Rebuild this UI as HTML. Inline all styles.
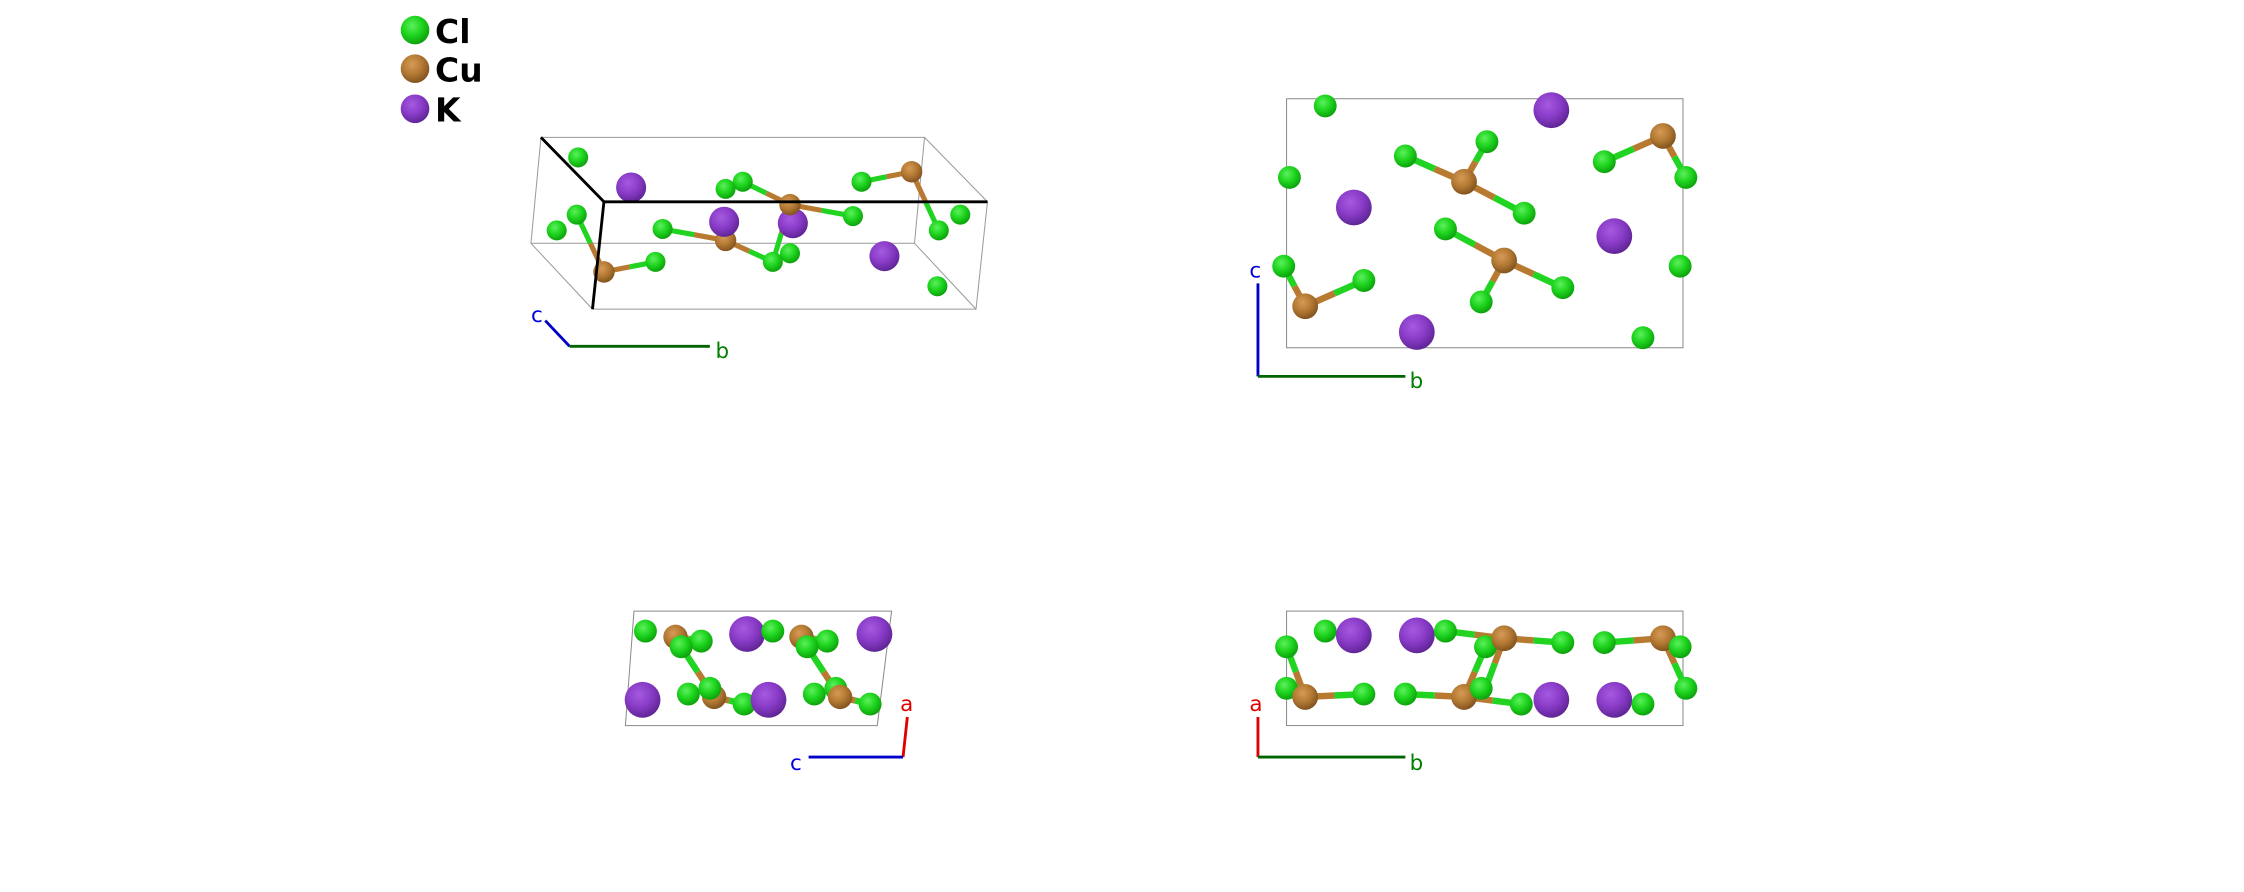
<!DOCTYPE html>
<html><head><meta charset="utf-8"><style>
html,body{margin:0;padding:0;background:#fff;}
svg{display:block;}
.cl{fill:url(#gcl)}.cu{fill:url(#gcu)}.k{fill:url(#gk)}
.bg{stroke:#22d422;stroke-linecap:butt}.bc{stroke:#b87a30;stroke-linecap:butt}
text{font-family:"DejaVu Sans","Liberation Sans",sans-serif;}
</style></head><body>
<svg width="2244" height="892" viewBox="0 0 1568 623.3" preserveAspectRatio="none" xmlns="http://www.w3.org/2000/svg">
<defs>
<radialGradient id="gcl" cx="0.4" cy="0.35" r="0.7"><stop offset="0" stop-color="#5cf05c"/><stop offset="0.5" stop-color="#1ed41e"/><stop offset="1" stop-color="#0a9a0a"/></radialGradient>
<radialGradient id="gcu" cx="0.4" cy="0.35" r="0.7"><stop offset="0" stop-color="#d69a55"/><stop offset="0.5" stop-color="#b47a34"/><stop offset="1" stop-color="#7a4e1c"/></radialGradient>
<radialGradient id="gk" cx="0.4" cy="0.35" r="0.7"><stop offset="0" stop-color="#a55ae0"/><stop offset="0.5" stop-color="#8a3cc8"/><stop offset="1" stop-color="#5a2290"/></radialGradient>
</defs>
<rect width="1568" height="623.3" fill="#fff"/>

<!-- legend -->
<circle class="cl" cx="290" cy="21" r="10"/><text x="304" y="30" font-size="23" font-weight="bold">Cl</text>
<circle class="cu" cx="290" cy="48" r="10"/><text x="304" y="57" font-size="23" font-weight="bold">Cu</text>
<circle class="k" cx="290" cy="76" r="10"/><text x="304" y="85" font-size="23" font-weight="bold">K</text>

<!-- TOP LEFT -->
<g fill="none" stroke="#999" stroke-width="0.7">
<polygon points="378,96 646,96 639,170 371,170"/>
<polygon points="422,141 690,141 682,216 414,216"/>
<line x1="646" y1="96" x2="690" y2="141"/><line x1="639" y1="170" x2="682" y2="216"/><line x1="371" y1="170" x2="414" y2="216"/>
</g>
<g stroke-width="3.6">
<line class="bg" x1="412.5" y1="170" x2="403" y2="150"/><line class="bc" x1="422" y1="190" x2="412.5" y2="170"/>
<line class="bg" x1="440" y1="186.5" x2="458" y2="183"/><line class="bc" x1="422" y1="190" x2="440" y2="186.5"/>
<line class="bg" x1="485" y1="164" x2="463" y2="160"/><line class="bc" x1="507" y1="168" x2="485" y2="164"/>
<line class="bg" x1="523.5" y1="175.5" x2="540" y2="183"/><line class="bc" x1="507" y1="168" x2="523.5" y2="175.5"/>
<line class="bg" x1="535.5" y1="135" x2="519" y2="127"/><line class="bc" x1="552" y1="143" x2="535.5" y2="135"/>
<line class="bg" x1="574" y1="147" x2="596" y2="151"/><line class="bc" x1="552" y1="143" x2="574" y2="147"/>
<line class="bg" x1="546" y1="163" x2="540" y2="183"/><line class="bc" x1="552" y1="143" x2="546" y2="163"/>
<line class="bg" x1="619.5" y1="123.5" x2="602" y2="127"/><line class="bc" x1="637" y1="120" x2="619.5" y2="123.5"/>
<line class="bg" x1="646.5" y1="140.5" x2="656" y2="161"/><line class="bc" x1="637" y1="120" x2="646.5" y2="140.5"/>
</g>
<circle class="cl" cx="404" cy="110" r="7"/>
<circle class="k" cx="441" cy="131" r="10.5"/>
<circle class="cl" cx="519" cy="127" r="7"/><circle class="cl" cx="507" cy="132" r="7"/>
<circle class="cl" cx="389" cy="161" r="7"/><circle class="cl" cx="403" cy="150" r="7"/>
<circle class="cl" cx="463" cy="160" r="7"/><circle class="cl" cx="458" cy="183" r="7"/>
<circle class="cu" cx="422" cy="190" r="7.5"/>
<circle class="cu" cx="507" cy="168" r="7.5"/>
<circle class="k" cx="554" cy="156" r="10.5"/>
<circle class="cu" cx="552" cy="143" r="7.5"/>
<circle class="k" cx="506" cy="155" r="10.5"/>
<circle class="cl" cx="596" cy="151" r="7"/><circle class="cl" cx="602" cy="127" r="7"/>
<circle class="cu" cx="637" cy="120" r="7.5"/>
<circle class="cl" cx="552" cy="177" r="7"/><circle class="cl" cx="540" cy="183" r="7"/>
<circle class="k" cx="618" cy="179" r="10.5"/>
<circle class="cl" cx="671" cy="150" r="7"/><circle class="cl" cx="656" cy="161" r="7"/><circle class="cl" cx="655" cy="200" r="7"/>
<g stroke="#000" stroke-width="2" fill="none">
<line x1="378" y1="96" x2="422" y2="141"/><line x1="422" y1="141" x2="690" y2="141"/><line x1="422" y1="141" x2="414" y2="216"/>
</g>
<line x1="398" y1="242" x2="381" y2="224" stroke="#0000c8" stroke-width="2"/>
<line x1="398" y1="242" x2="496" y2="242" stroke="#006400" stroke-width="2"/>
<text x="371" y="225" font-size="15" fill="#0000e0">c</text>
<text x="500" y="250" font-size="15" fill="#008000">b</text>

<!-- TOP RIGHT -->
<rect x="899" y="69" width="277" height="174" fill="none" stroke="#888" stroke-width="0.7"/>
<g stroke-width="4.5">
<line class="bg" x1="1002.5" y1="118" x2="982" y2="109"/><line class="bc" x1="1023" y1="127" x2="1002.5" y2="118"/>
<line class="bg" x1="1031" y1="113" x2="1039" y2="99"/><line class="bc" x1="1023" y1="127" x2="1031" y2="113"/>
<line class="bg" x1="1044" y1="138" x2="1065" y2="149"/><line class="bc" x1="1023" y1="127" x2="1044" y2="138"/>
<line class="bg" x1="1030.5" y1="171" x2="1010" y2="160"/><line class="bc" x1="1051" y1="182" x2="1030.5" y2="171"/>
<line class="bg" x1="1043" y1="196.5" x2="1035" y2="211"/><line class="bc" x1="1051" y1="182" x2="1043" y2="196.5"/>
<line class="bg" x1="1071.5" y1="191.5" x2="1092" y2="201"/><line class="bc" x1="1051" y1="182" x2="1071.5" y2="191.5"/>
<line class="bg" x1="1141.5" y1="104" x2="1121" y2="113"/><line class="bc" x1="1162" y1="95" x2="1141.5" y2="104"/>
<line class="bg" x1="1170" y1="109.5" x2="1178" y2="124"/><line class="bc" x1="1162" y1="95" x2="1170" y2="109.5"/>
<line class="bg" x1="904.5" y1="200" x2="897" y2="186"/><line class="bc" x1="912" y1="214" x2="904.5" y2="200"/>
<line class="bg" x1="932.5" y1="205" x2="953" y2="196"/><line class="bc" x1="912" y1="214" x2="932.5" y2="205"/>
</g>
<circle class="cl" cx="926" cy="74" r="8"/><circle class="cl" cx="901" cy="124" r="8"/>
<circle class="cl" cx="982" cy="109" r="8"/><circle class="cl" cx="1039" cy="99" r="8"/><circle class="cl" cx="1065" cy="149" r="8"/>
<circle class="cl" cx="1010" cy="160" r="8"/><circle class="cl" cx="1035" cy="211" r="8"/><circle class="cl" cx="1092" cy="201" r="8"/>
<circle class="cl" cx="1121" cy="113" r="8"/><circle class="cl" cx="1178" cy="124" r="8"/><circle class="cl" cx="1174" cy="186" r="8"/>
<circle class="cl" cx="1148" cy="236" r="8"/><circle class="cl" cx="897" cy="186" r="8"/><circle class="cl" cx="953" cy="196" r="8"/>
<circle class="cu" cx="1023" cy="127" r="9"/><circle class="cu" cx="1051" cy="182" r="9"/><circle class="cu" cx="1162" cy="95" r="9"/><circle class="cu" cx="912" cy="214" r="9"/>
<circle class="k" cx="1084" cy="77" r="12.5"/><circle class="k" cx="946" cy="145" r="12.5"/><circle class="k" cx="1128" cy="165" r="12.5"/><circle class="k" cx="990" cy="232" r="12.5"/>
<line x1="879" y1="263" x2="879" y2="198" stroke="#0000c8" stroke-width="2"/>
<line x1="879" y1="263" x2="982" y2="263" stroke="#006400" stroke-width="2"/>
<text x="873" y="194" font-size="15" fill="#0000e0">c</text>
<text x="985" y="271" font-size="15" fill="#008000">b</text>

<!-- BOTTOM LEFT -->
<polygon points="443,427 623,427 613,507 437,507" fill="none" stroke="#888" stroke-width="0.7"/>
<g stroke-width="4.5">
<line class="bg" x1="487.5" y1="469.5" x2="476" y2="452"/><line class="bc" x1="499" y1="487" x2="487.5" y2="469.5"/>
<line class="bg" x1="575.5" y1="469.5" x2="564" y2="452"/><line class="bc" x1="587" y1="487" x2="575.5" y2="469.5"/>
<line class="bg" x1="509.5" y1="489.5" x2="520" y2="492"/><line class="bc" x1="499" y1="487" x2="509.5" y2="489.5"/>
<line class="bg" x1="597.5" y1="489.5" x2="608" y2="492"/><line class="bc" x1="587" y1="487" x2="597.5" y2="489.5"/>
<line class="bg" x1="481" y1="446.5" x2="490" y2="448"/><line class="bc" x1="472" y1="445" x2="481" y2="446.5"/>
<line class="bg" x1="569" y1="446.5" x2="578" y2="448"/><line class="bc" x1="560" y1="445" x2="569" y2="446.5"/>
</g>
<circle class="cl" cx="451" cy="441" r="8"/>
<circle class="cu" cx="472" cy="445" r="8.5"/><circle class="cl" cx="490" cy="448" r="8"/><circle class="cl" cx="476" cy="452" r="8"/>
<circle class="k" cx="522" cy="443" r="12.5"/>
<circle class="cl" cx="540" cy="441" r="8"/><circle class="cu" cx="560" cy="445" r="8.5"/><circle class="cl" cx="578" cy="448" r="8"/><circle class="cl" cx="564" cy="452" r="8"/>
<circle class="k" cx="611" cy="443" r="12.5"/>
<circle class="k" cx="449" cy="489" r="12.5"/>
<circle class="cl" cx="481" cy="485" r="8"/><circle class="cu" cx="499" cy="487" r="8.5"/><circle class="cl" cx="496" cy="481" r="8"/><circle class="cl" cx="520" cy="492" r="8"/>
<circle class="k" cx="537" cy="489" r="12.5"/>
<circle class="cl" cx="569" cy="485" r="8"/><circle class="cl" cx="584" cy="481" r="8"/><circle class="cu" cx="587" cy="487" r="8.5"/><circle class="cl" cx="608" cy="492" r="8"/>
<line x1="631" y1="529" x2="634" y2="501" stroke="#e00000" stroke-width="2"/>
<line x1="631" y1="529" x2="565" y2="529" stroke="#0000c8" stroke-width="2"/>
<text x="629" y="497" font-size="15" fill="#e00000">a</text>
<text x="552" y="538" font-size="15" fill="#0000e0">c</text>

<!-- BOTTOM RIGHT -->
<rect x="899" y="427" width="277" height="80" fill="none" stroke="#888" stroke-width="0.7"/>
<g stroke-width="4.5">
<line class="bg" x1="1030.5" y1="443.5" x2="1010" y2="441"/><line class="bc" x1="1051" y1="446" x2="1030.5" y2="443.5"/>
<line class="bg" x1="1071.5" y1="447.5" x2="1092" y2="449"/><line class="bc" x1="1051" y1="446" x2="1071.5" y2="447.5"/>
<line class="bg" x1="1044.5" y1="463.5" x2="1038" y2="481"/><line class="bc" x1="1051" y1="446" x2="1044.5" y2="463.5"/>
<line class="bg" x1="1030.5" y1="469.5" x2="1038" y2="452"/><line class="bc" x1="1023" y1="487" x2="1030.5" y2="469.5"/>
<line class="bg" x1="1141.5" y1="447.5" x2="1121" y2="449"/><line class="bc" x1="1162" y1="446" x2="1141.5" y2="447.5"/>
<line class="bg" x1="1170" y1="463.5" x2="1178" y2="481"/><line class="bc" x1="1162" y1="446" x2="1170" y2="463.5"/>
<line class="bg" x1="905.5" y1="469.5" x2="899" y2="452"/><line class="bc" x1="912" y1="487" x2="905.5" y2="469.5"/>
<line class="bg" x1="932.5" y1="486" x2="953" y2="485"/><line class="bc" x1="912" y1="487" x2="932.5" y2="486"/>
<line class="bg" x1="1002.5" y1="486" x2="982" y2="485"/><line class="bc" x1="1023" y1="487" x2="1002.5" y2="486"/>
<line class="bg" x1="1043" y1="489.5" x2="1063" y2="492"/><line class="bc" x1="1023" y1="487" x2="1043" y2="489.5"/>
</g>
<circle class="cl" cx="926" cy="441" r="8"/><circle class="k" cx="946" cy="444" r="12.5"/>
<circle class="k" cx="990" cy="444" r="12.5"/><circle class="cl" cx="1010" cy="441" r="8"/>
<circle class="cl" cx="1038" cy="452" r="8"/><circle class="cu" cx="1051" cy="446" r="9"/><circle class="cl" cx="1092" cy="449" r="8"/>
<circle class="cl" cx="1121" cy="449" r="8"/><circle class="cu" cx="1162" cy="446" r="9"/><circle class="cl" cx="1174" cy="452" r="8"/>
<circle class="cl" cx="899" cy="452" r="8"/><circle class="cl" cx="899" cy="481" r="8"/><circle class="cu" cx="912" cy="487" r="9"/><circle class="cl" cx="953" cy="485" r="8"/>
<circle class="cl" cx="982" cy="485" r="8"/><circle class="cu" cx="1023" cy="487" r="9"/><circle class="cl" cx="1035" cy="481" r="8"/><circle class="cl" cx="1063" cy="492" r="8"/>
<circle class="k" cx="1084" cy="489" r="12.5"/><circle class="k" cx="1128" cy="489" r="12.5"/><circle class="cl" cx="1148" cy="492" r="8"/><circle class="cl" cx="1178" cy="481" r="8"/>
<line x1="879" y1="529" x2="879" y2="501" stroke="#e00000" stroke-width="2"/>
<line x1="879" y1="529" x2="982" y2="529" stroke="#006400" stroke-width="2"/>
<text x="873" y="497" font-size="15" fill="#e00000">a</text>
<text x="985" y="538" font-size="15" fill="#008000">b</text>
</svg>
</body></html>
